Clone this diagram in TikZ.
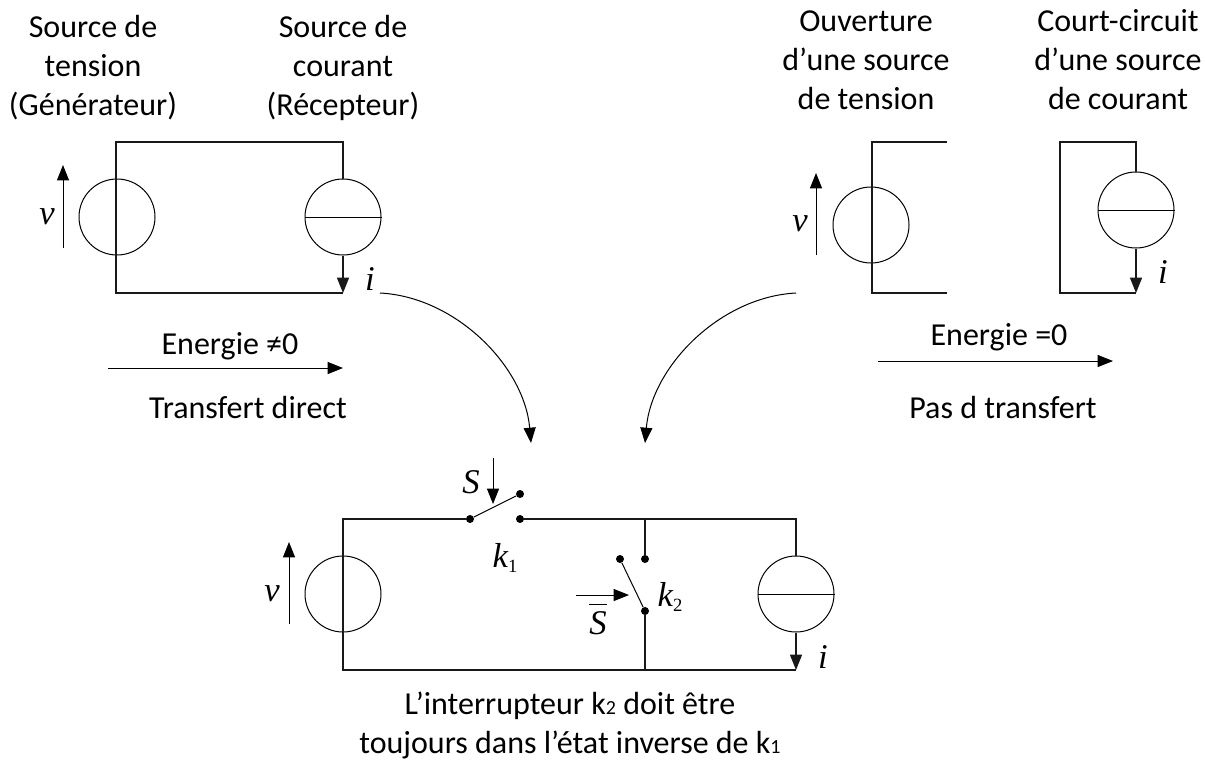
\documentclass[tikz,border=0pt]{standalone}
\usepackage{fontspec}
\setmainfont{Carlito}
\newfontfamily\timesit[ItalicFont={Liberation Serif Italic}]{Liberation Serif}
\usetikzlibrary{arrows.meta}
\newcommand{\symb}[1]{{\timesit\itshape #1}}
\newcommand{\symbsub}[2]{{\timesit\itshape #1\raisebox{-4pt}{\upshape\fontsize{14}{14}\selectfont #2}}}

\begin{document}
\begin{tikzpicture}[x=0.75pt,y=-0.75pt,>={Triangle[length=11.5pt,width=9pt]},
    wire/.style={line width=1pt,black!90},
    thin wire/.style={line width=0.75pt},
    source/.style={circle,draw,line width=0.75pt,minimum size=57pt,inner sep=0pt},
    contact/.style={circle,fill,minimum size=6pt,inner sep=0pt},
    caption/.style={align=center,font=\fontsize{24}{29.2}\selectfont},
    symbol/.style={font=\fontsize{26}{26}\selectfont,inner sep=0pt}]
    \useasboundingbox (0,0) rectangle (1205,760);

    % titles
    \node[caption] (titleA) at (93,68) {Source de\\tension\\(Générateur)};
    \node[caption] (titleB) at (343,68) {Source de\\courant\\(Récepteur)};
    \node[caption] (titleC) at (866,60) {Ouverture\\d’une source\\de tension};
    \node[caption] (titleD) at (1118,60) {Court-circuit\\d’une source\\de courant};

    % direct transfer circuit
    \node[source] (vsA) at (117,217) {};
    \node[source] (csA) at (343,217) {};
    \coordinate (a1) at (116,142);
    \coordinate (a2) at (343,142);
    \coordinate (a3) at (343,293);
    \coordinate (a4) at (116,293);
    \draw[wire] (csA.north) -- (a2) -- (a1) -- (a4) -- (a3);
    \draw[thin wire] (csA.west) -- (csA.east);
    \draw[wire,->] (csA.south) -- (a3);
    \coordinate (va0) at (63,248);
    \coordinate (va1) at (63,165);
    \draw[thin wire,->] (va0) -- (va1);
    \node[symbol] (vA) at (47,217) {\symb{v}};
    \node[symbol] (iA) at (370,279) {\symb{i}};

    \coordinate (ea0) at (108,368);
    \coordinate (ea1) at (343,368);
    \draw[thin wire,->] (ea0) -- (ea1);
    \node[caption] (energyA) at (230,346) {Energie ≠0};
    \node[caption] (directA) at (248,408) {Transfert direct};

    % open voltage source
    \node[source] (vsC) at (871,225) {};
    \coordinate (c1) at (947,142);
    \coordinate (c2) at (872,142);
    \coordinate (c3) at (872,293);
    \coordinate (c4) at (947,293);
    \draw[wire] (c1) -- (c2) -- (c3) -- (c4);
    \coordinate (vc0) at (816,255);
    \coordinate (vc1) at (816,173);
    \draw[thin wire,->] (vc0) -- (vc1);
    \node[symbol] (vC) at (800,224) {\symb{v}};

    % shorted current source
    \node[source] (csD) at (1136,210) {};
    \coordinate (d1) at (1136,142);
    \coordinate (d2) at (1060,142);
    \coordinate (d3) at (1060,293);
    \coordinate (d4) at (1136,293);
    \draw[wire] (csD.north) -- (d1) -- (d2) -- (d3) -- (d4);
    \draw[thin wire] (csD.west) -- (csD.east);
    \draw[wire,->] (csD.south) -- (d4);
    \node[symbol] (iD) at (1163,272) {\symb{i}};

    \coordinate (ed0) at (878,361);
    \coordinate (ed1) at (1113,361);
    \draw[thin wire,->] (ed0) -- (ed1);
    \node[caption] (energyD) at (999,337) {Energie =0};
    \node[caption] (directD) at (1003,408) {Pas d transfert};

    % curved arrows
    \coordinate (ca0) at (380,293);
    \coordinate (ca1) at (531,443);
    \coordinate (cb0) at (796,293);
    \coordinate (cb1) at (645,443);
    \draw[thin wire,->] (ca0) to[out=-3,in=95,looseness=.92] (ca1);
    \draw[thin wire,->] (cb0) to[out=183,in=85,looseness=.92] (cb1);

    % switching cell
    \node[source] (vsE) at (343,594) {};
    \node[source] (csE) at (796,594) {};
    \node[contact] (k1a) at (470,519) {};
    \node[contact] (k1b) at (520,519) {};
    \node[contact] (k1c) at (520,494) {};
    \node[contact] (k2a) at (620,559) {};
    \node[contact] (k2b) at (645,559) {};
    \node[contact] (k2c) at (645,611) {};
    \coordinate (e1) at (343,519);
    \coordinate (e2) at (645,519);
    \coordinate (e3) at (796,519);
    \coordinate (e4) at (796,670);
    \coordinate (e5) at (645,670);
    \coordinate (e6) at (343,670);
    \draw[wire] (k1a) -- (e1) -- (e6) -- (e4);
    \draw[wire] (k1b) -- (e3) -- (csE.north);
    \draw[wire] (e2) -- (k2b);
    \draw[wire] (k2c) -- (e5);
    \draw[thin wire] (k1a) -- (k1c);
    \draw[thin wire] (k2a) -- (k2c);
    \draw[thin wire] (csE.west) -- (csE.east);
    \draw[wire,->] (csE.south) -- (e4);

    \coordinate (s0) at (493,458);
    \coordinate (s1) at (493,504);
    \draw[thin wire,->] (s0) -- (s1);
    \coordinate (sb0) at (576,595);
    \coordinate (sb1) at (629,595);
    \draw[thin wire,->] (sb0) -- (sb1);
    \coordinate (ve0) at (289,624);
    \coordinate (ve1) at (289,542);
    \draw[thin wire,->] (ve0) -- (ve1);

    \node[symbol] (vE) at (272,594) {\symb{v}};
    \node[symbol] (iE) at (823,657) {\symb{i}};
    \node[symbol] (sE) at (471,482) {\symb{S}};
    \node[symbol] (sbE) at (598,619) {$\overline{\hbox{\rule{0pt}{21pt}\symb{S}}}$};
    \node[symbol] (k1E) at (505,558) {\symbsub{k}{1}};
    \node[symbol] (k2E) at (670,597) {\symbsub{k}{2}};

    \node[caption] (note) at (570,725) {L’interrupteur k{\fontsize{15}{15}\selectfont 2} doit être\\toujours dans l’état inverse de k{\fontsize{15}{15}\selectfont 1}};
\end{tikzpicture}
\end{document}
